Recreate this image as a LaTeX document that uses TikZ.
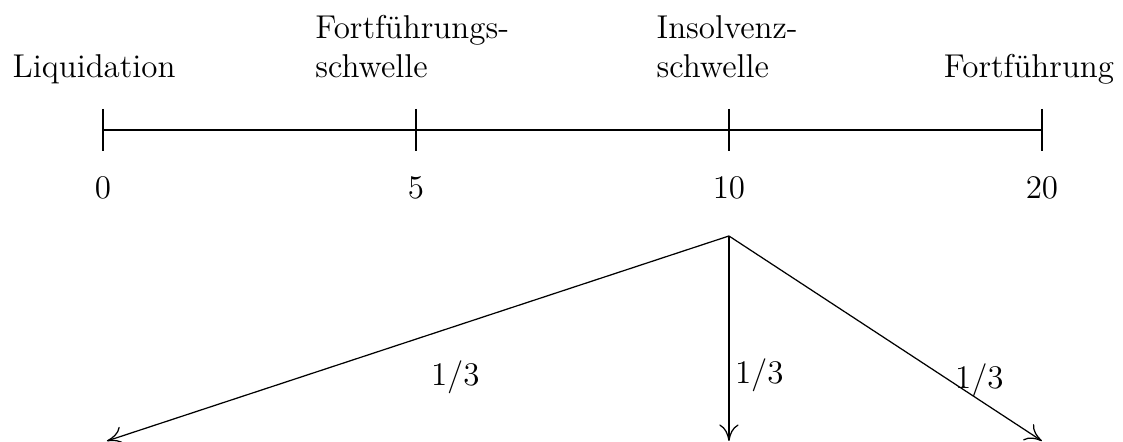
\documentclass[tikz,border=0pt]{standalone}
\usetikzlibrary{positioning,arrows.meta}

\begin{document}
\begin{tikzpicture}[
  tick/.style={line width=0.5pt},
  num/.style={anchor=base, inner sep=0pt},
  top/.style={inner sep=0pt, align=left},
  lbl/.style={inner sep=2pt},
  font=\fontsize{12}{14.5}\selectfont,
  >={To[length=6pt,width=7pt]}, line width=0.45pt]
  \useasboundingbox (-1.316,-3.987) rectangle (13.036,1.661);
  % Zahlenstrahl
  \draw[tick] (0,0) -- (12,0);
  \foreach \x/\v [count=\i from 0] in {0/0,4/5,8/10,12/20} {
    \draw[tick] (\x,0.27) -- (\x,-0.27);
    \node[num] (n\i) at (\x,-0.88) {\v};
  }
  \node[top, anchor=base west] (liq) at (-1.163,0.665) {Liquidation};
  \node[top, anchor=base west] (fs) at (2.707,0.665) {Fortführungs-\\schwelle};
  \node[top, anchor=base west] (is) at (7.068,0.665) {Insolvenz-\\schwelle};
  \node[top, anchor=base east] (ff) at (12.93,0.665) {Fortführung};
  % Baum
  \coordinate (root) at (8,-1.355);
  \coordinate (leafL) at (0.05,-3.975);
  \coordinate (leafM) at (8,-3.975);
  \coordinate (leafR) at (12,-3.975);
  \draw[->] (root) -- node[lbl, pos=0.44, below=0.36cm] {$1/3$} (leafL);
  \draw[->] (root) -- node[lbl, pos=0.68, right] {$1/3$} (leafM);
  \draw[->] (root) -- node[lbl, pos=0.8, above, inner sep=1pt] {$1/3$} (leafR);
\end{tikzpicture}
\end{document}
